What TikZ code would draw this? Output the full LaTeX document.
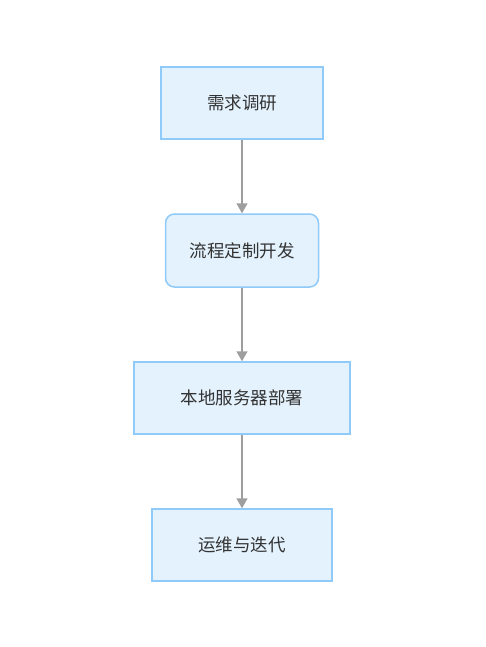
\documentclass[tikz,border=0pt]{standalone}
\usepackage{fontspec}
\newfontfamily\cjk{Noto Sans CJK SC}
\usetikzlibrary{arrows.meta}
\definecolor{boxfill}{HTML}{E3F2FD}
\definecolor{boxline}{HTML}{90CAF9}
\definecolor{arrowgray}{HTML}{9E9E9E}
\definecolor{txt}{HTML}{333333}
\tikzset{
  stepbox/.style={draw=boxline, fill=boxfill, line width=1.5pt, text=txt,
    font=\cjk\fontsize{17.5}{20}\selectfont, inner sep=0pt, anchor=center},
  flowarrow/.style={draw=arrowgray, line width=1.5pt,
    -{Triangle[width=11pt,length=10pt]}}
}
\begin{document}
\begin{tikzpicture}[x=1pt,y=-1pt]
\useasboundingbox (0,0) rectangle (486,647);
\fill[white] (0,0) rectangle (486,647);
\node[stepbox, minimum width=162pt, minimum height=72pt] (a) at (242,103) {需求调研};
\node[stepbox, rounded corners=9pt, minimum width=153pt, minimum height=73pt] (b) at (242,250.5) {流程定制开发};
\node[stepbox, minimum width=216pt, minimum height=72pt] (c) at (242,398) {本地服务器部署};
\node[stepbox, minimum width=180pt, minimum height=72pt] (d) at (242,545) {运维与迭代};
\draw[flowarrow] (a.south) -- (b.north);
\draw[flowarrow] (b.south) -- (c.north);
\draw[flowarrow] (c.south) -- (d.north);
\end{tikzpicture}
\end{document}
